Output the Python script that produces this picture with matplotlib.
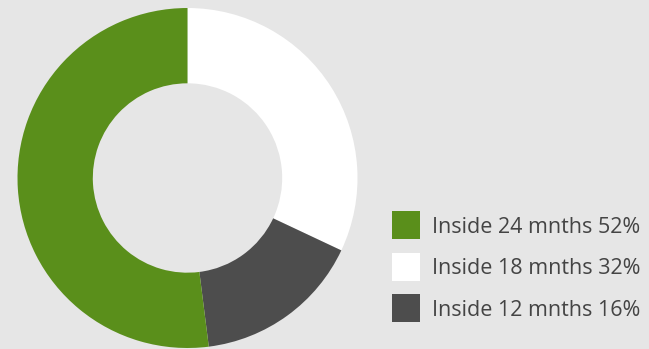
import matplotlib.pyplot as plt
from matplotlib.patches import Rectangle

# share of items by time window
labels = ["Inside 24 mnths", "Inside 18 mnths", "Inside 12 mnths"]
shares = [52, 32, 16]
colors = ["#5a8f1b", "#ffffff", "#4d4d4d"]

bg = "#e6e6e6"
W, H = 649, 349

fig = plt.figure(figsize=(W / 100, H / 100), dpi=100, facecolor=bg)

# donut: centre (187.5, 178) px, radius 170 px
cx, cy, r = 187.5, 178, 170
ax = fig.add_axes([(cx - r) / W, (H - cy - r) / H, 2 * r / W, 2 * r / H])
ax.set_facecolor(bg)

# drawn clockwise from 12 o'clock: 18, 12, then 24 months
order = [1, 2, 0]
ax.pie([shares[i] for i in order], colors=[colors[i] for i in order],
       startangle=90, counterclock=False, radius=1,
       wedgeprops=dict(width=0.443, edgecolor="none", linewidth=0))
ax.set_xlim(-1, 1)
ax.set_ylim(-1, 1)
ax.axis("off")

# legend, built by hand in pixel units
box, top0, step = 28, 211, 41.5
for i, (lab, s, c) in enumerate(zip(labels, shares, colors)):
    top = top0 + i * step
    fig.patches.append(Rectangle((392 / W, 1 - (top + box) / H), box / W, box / H,
                                 transform=fig.transFigure, facecolor=c,
                                 edgecolor="none"))
    fig.text(432 / W, 1 - (top + 21.7) / H, f"{lab} {s}%",
             family="Open Sans", size=15.5, color="#444444",
             ha="left", va="baseline")

fig.savefig("out.png", dpi=100, facecolor=bg)
